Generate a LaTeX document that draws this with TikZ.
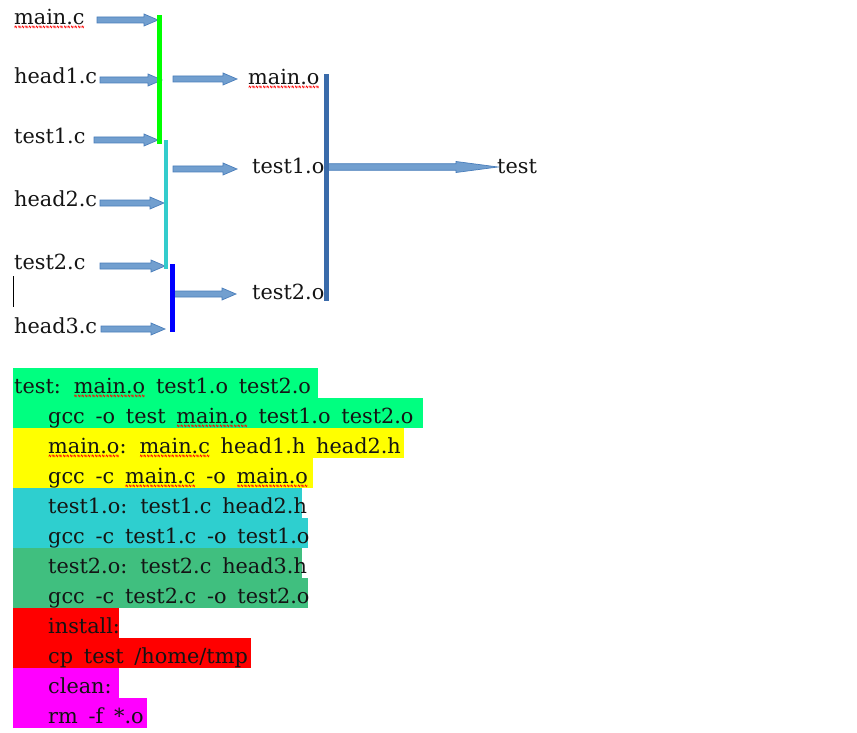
\documentclass[tikz,border=0pt]{standalone}
\usepackage{fontspec}
\setmainfont{DejaVu Serif}
\usetikzlibrary{calc}
\definecolor{arrfill}{HTML}{729FCF}
\definecolor{arrline}{HTML}{4A7EBB}
\definecolor{barblue}{HTML}{3A6BAA}
\definecolor{bargreen}{HTML}{00FF00}
\definecolor{barcyan}{HTML}{33CCCC}
\definecolor{barbright}{HTML}{0000FF}
\definecolor{bggreen}{HTML}{00FF80}
\definecolor{bgyellow}{HTML}{FFFF00}
\definecolor{bgcyan}{HTML}{2ECFCF}
\definecolor{bgsea}{HTML}{40BF7F}
\definecolor{bgred}{HTML}{FF0000}
\definecolor{bgmag}{HTML}{FF00FF}
\definecolor{txt}{HTML}{141414}
\newcommand\wavepiece{\scalebox{0.32}[1.5]{\fontsize{13}{13}\selectfont\char"223C}}
\newcommand\redwave[1]{\setbox0=\hbox{#1}\rlap{\raisebox{-9pt}[0pt][0pt]{\hbox to \wd0{\color{red}\xleaders\hbox{\wavepiece}\hfill}}}\box0\relax}
\newcommand\lblfont{\fontsize{20.8}{24}\selectfont\spaceskip=10.8pt\relax}
% start, end, head length, shaft half, head half
\newcommand\barrow[5]{\path[blockarr] let \p1=(#1),\p2=(#2) in
  (\x1,\y1+#4) -- (\x2-#3,\y1+#4) -- (\x2-#3,\y1+#5) -- (\x2,\y1) --
  (\x2-#3,\y1-#5) -- (\x2-#3,\y1-#4) -- (\x1,\y1-#4) -- cycle;}
\begin{document}
\begin{tikzpicture}[x=1pt,y=-1pt,
  lbl/.style={anchor=base west,inner sep=0pt,font=\lblfont,text=txt},
  blockarr/.style={fill=arrfill,draw=arrline,line width=0.7pt}]
\useasboundingbox[fill=white] (0,0) rectangle (857,733);
% top labels
\node[lbl] (mainc) at (14,25) {\redwave{main.c}};
\node[lbl] (head1c) at (14,84) {head1.c};
\node[lbl] (test1c) at (14,144) {test1.c};
\node[lbl] (head2c) at (14,207) {head2.c};
\node[lbl] (test2c) at (14,269) {test2.c};
\node[lbl] (head3c) at (14,333) {head3.c};
\node[lbl] (maino) at (248,85) {\redwave{main.o}};
\node[lbl] (test1o) at (252,174) {test1.o};
\node[lbl] (test2o) at (252,299) {test2.o};
\node[lbl] (test) at (497,174) {test};
% arrow end points
\coordinate (s1) at (97,20);  \coordinate (e1) at (158,20);
\coordinate (s2) at (100,80); \coordinate (e2) at (162,80);
\coordinate (s3) at (94,140); \coordinate (e3) at (158,140);
\coordinate (s4) at (100,203); \coordinate (e4) at (164,203);
\coordinate (s5) at (100,266); \coordinate (e5) at (165,266);
\coordinate (s6) at (101,329); \coordinate (e6) at (165,329);
\coordinate (s7) at (173,79); \coordinate (e7) at (237,79);
\coordinate (s8) at (173,169); \coordinate (e8) at (237,169);
\coordinate (s9) at (172,294); \coordinate (e9) at (236,294);
\coordinate (s10) at (328,167); \coordinate (e10) at (498,167);
\foreach \i in {1,...,9}{\barrow{s\i}{e\i}{14pt}{3pt}{6pt}}
\barrow{s10}{e10}{42pt}{3.3pt}{5.5pt}
% bars
\fill[bargreen] (157,15) rectangle (161.5,144);
\fill[barcyan] (164,140) rectangle (168,269);
\fill[barbright] (170,264) rectangle (174.5,332);
\fill[barblue] (324,74) rectangle (328.5,301);
% text cursor
\draw[line width=1.5pt] (13.5,276) -- (13.5,307);
% bottom listing
\fill[bggreen] (13,368) rectangle (318,398);
\fill[bggreen] (13,398) rectangle (423,428);
\fill[bgyellow] (13,428) rectangle (404,458);
\fill[bgyellow] (13,458) rectangle (313,488);
\fill[bgcyan] (13,488) rectangle (302,518);
\fill[bgcyan] (13,518) rectangle (308,548);
\fill[bgsea] (13,548) rectangle (302,578);
\fill[bgsea] (13,578) rectangle (308,608);
\fill[bgred] (13,608) rectangle (119,638);
\fill[bgred] (13,638) rectangle (251,668);
\fill[bgmag] (13,668) rectangle (119,698);
\fill[bgmag] (13,698) rectangle (147,728);
\node[lbl] (r1) at (14,393) {test: \redwave{main.o} test1.o test2.o};
\node[lbl] (r2) at (48,423) {gcc -o test \redwave{main.o} test1.o test2.o};
\node[lbl] (r3) at (48,453) {\redwave{main.o}: \redwave{main.c} head1.h head2.h};
\node[lbl] (r4) at (48,483) {gcc -c \redwave{main.c} -o \redwave{main.o}};
\node[lbl] (r5) at (48,513) {test1.o: test1.c head2.h};
\node[lbl] (r6) at (48,543) {gcc -c test1.c -o test1.o};
\node[lbl] (r7) at (48,573) {test2.o: test2.c head3.h};
\node[lbl] (r8) at (48,603) {gcc -c test2.c -o test2.o};
\node[lbl] (r9) at (48,633) {install:};
\node[lbl] (r10) at (48,663) {cp test /home/tmp};
\node[lbl] (r11) at (48,693) {clean:};
\node[lbl] (r12) at (48,723) {rm -f *.o};
\end{tikzpicture}
\end{document}
